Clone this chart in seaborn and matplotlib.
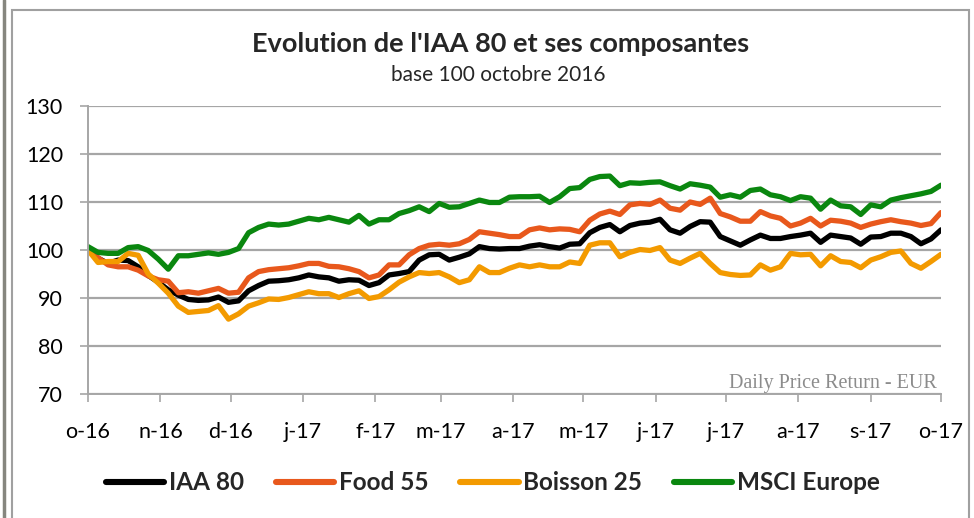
import matplotlib
matplotlib.use("Agg")
import matplotlib.pyplot as plt
import numpy as np
import pandas as pd
import seaborn as sns
from matplotlib.lines import Line2D
from matplotlib.patches import Rectangle

# ---------------- data ----------------
iaa80 = [100.0, 98.3, 97.2, 97.9, 97.8, 96.5, 94.7, 93.3, 91.7, 90.6, 89.7, 89.5, 89.6, 90.2, 89.1,
         89.4, 91.5, 92.6, 93.5, 93.6, 93.8, 94.2, 94.8, 94.4, 94.2, 93.5, 93.8, 93.7, 92.6, 93.2,
         94.8, 95.1, 95.5, 97.9, 99.0, 99.1, 97.9, 98.5, 99.2, 100.7, 100.3, 100.2, 100.3, 100.3,
         100.8, 101.1, 100.7, 100.4, 101.2, 101.3, 103.6, 104.7, 105.3, 103.8, 105.1, 105.6, 105.8, 106.4, 104.2,
         103.5, 104.9, 105.9, 105.8, 102.8, 101.9, 101.0, 102.1, 103.1, 102.4, 102.4, 102.8, 103.1, 103.5,
         101.6, 103.1, 102.8, 102.5, 101.2, 102.7, 102.8, 103.5, 103.5, 102.8, 101.3, 102.3, 104.2]
food55 = [100.0, 98.4, 96.9, 96.5, 96.5, 95.8, 94.6, 93.8, 93.5, 91.1, 91.3, 91.0, 91.5, 92.0, 91.0,
          91.2, 94.2, 95.5, 95.9, 96.1, 96.3, 96.7, 97.2, 97.2, 96.6, 96.5, 96.1, 95.5, 94.2, 94.8,
          96.9, 96.9, 99.0, 100.3, 101.0, 101.2, 101.0, 101.3, 102.2, 103.8, 103.5, 103.2, 102.8, 102.8,
          104.2, 104.6, 104.2, 104.4, 104.3, 103.8, 106.2, 107.5, 108.1, 107.4, 109.4, 109.7, 109.5, 110.4, 108.7,
          108.3, 110.0, 109.5, 110.8, 107.6, 106.9, 106.0, 106.0, 108.0, 107.1, 106.6, 105.0, 105.6, 106.6,
          105.0, 106.2, 106.0, 105.6, 104.7, 105.4, 105.9, 106.3, 105.9, 105.6, 105.1, 105.5, 107.8]
boisson25 = [100.0, 97.4, 97.6, 97.6, 99.3, 98.9, 95.0, 93.1, 91.0, 88.3, 87.0, 87.2, 87.4, 88.4, 85.6,
             86.7, 88.3, 89.0, 89.8, 89.7, 90.1, 90.7, 91.3, 90.9, 90.9, 90.1, 90.9, 91.5, 89.9, 90.3,
             91.7, 93.3, 94.4, 95.3, 95.1, 95.3, 94.4, 93.2, 93.8, 96.5, 95.3, 95.3, 96.2, 96.9,
             96.5, 96.9, 96.5, 96.5, 97.5, 97.2, 101.0, 101.5, 101.5, 98.6, 99.5, 100.1, 99.9, 100.5, 97.9,
             97.2, 98.3, 99.3, 97.2, 95.3, 94.9, 94.7, 94.8, 96.9, 95.8, 96.5, 99.3, 99.0, 99.1,
             96.7, 98.8, 97.6, 97.4, 96.3, 97.9, 98.6, 99.5, 99.8, 97.2, 96.2, 97.6, 99.1]
msci_europe = [100.7, 99.5, 99.3, 99.3, 100.5, 100.7, 99.9, 98.1, 96.0, 98.8, 98.8, 99.1, 99.4, 99.1, 99.5,
               100.3, 103.6, 104.7, 105.4, 105.2, 105.4, 106.0, 106.6, 106.3, 106.8, 106.3, 105.8, 107.2, 105.4, 106.3,
               106.3, 107.6, 108.2, 109.0, 108.0, 109.7, 108.9, 109.0, 109.7, 110.4, 109.9, 109.9, 111.0, 111.1,
               111.1, 111.2, 109.9, 111.1, 112.8, 113.0, 114.7, 115.3, 115.4, 113.4, 114.0, 113.9, 114.1, 114.2, 113.4,
               112.7, 113.8, 113.5, 113.1, 111.0, 111.5, 111.0, 112.4, 112.7, 111.5, 111.1, 110.3, 111.1, 110.8,
               108.5, 110.4, 109.2, 109.0, 107.4, 109.4, 109.0, 110.4, 110.9, 111.3, 111.7, 112.2, 113.5]

series_names = ["IAA 80", "Food 55", "Boisson 25", "MSCI Europe"]
series_colors = ["#000000", "#E8581C", "#F39A00", "#0A870F"]
month_labels = ["o-16", "n-16", "d-16", "j-17", "f-17", "m-17", "a-17",
                "m-17", "j-17", "j-17", "a-17", "s-17", "o-17"]
title = "Evolution de l'IAA 80 et ses composantes"
subtitle = "base 100 octobre 2016"
source_note = "Daily Price Return - EUR"

dates = pd.date_range("2016-10-01", "2017-10-01", periods=len(iaa80))
month_ticks = pd.date_range("2016-10-01", "2017-10-01", freq="MS")

frames = []
for name, vals in zip(series_names, [iaa80, food55, boisson25, msci_europe]):
    frames.append(pd.DataFrame({"date": dates, "value": vals, "serie": name}))
df = pd.concat(frames, ignore_index=True)

# ---------------- style ----------------
sns.set_style("white")
plt.rcParams["font.family"] = ["Lato", "DejaVu Sans"]

W, H = 974, 518
fig = plt.figure(figsize=(W / 100, H / 100), dpi=100)
ax = fig.add_axes([88 / W, 1 - 394 / H, (941 - 88) / W, (394 - 106) / H])

palette = dict(zip(series_names, series_colors))
sns.lineplot(data=df, x="date", y="value", hue="serie", hue_order=series_names,
             palette=palette, linewidth=3.8, ax=ax, legend=False)

ax.set_xlim(pd.Timestamp("2016-10-01"), pd.Timestamp("2017-10-01"))
ax.set_ylim(70, 130)
ax.set_yticks(np.arange(70, 131, 10))
ax.set_xticks(month_ticks)
ax.set_xticklabels(month_labels)
ax.set_xlabel("")
ax.set_ylabel("")

ax.yaxis.grid(True, color="#a6a6a6", linewidth=1.6)
ax.xaxis.grid(False)
ax.set_axisbelow(True)
for s in ["top", "right"]:
    ax.spines[s].set_visible(False)
for s in ["left", "bottom"]:
    ax.spines[s].set_color("#a6a6a6")
    ax.spines[s].set_linewidth(1.4)

ax.tick_params(axis="y", length=6, width=1.2, color="#a6a6a6", pad=12,
               labelsize=15.5, labelcolor="black", left=True)
ax.tick_params(axis="x", length=5.5, width=1.2, color="#a6a6a6", pad=15,
               labelsize=15.5, labelcolor="black", bottom=True)

ax.text(0.995, 0.022, source_note, transform=ax.transAxes, ha="right", va="baseline",
        fontsize=14.5, color="#8c8c8c", family=["Liberation Serif", "DejaVu Serif"])

fig.text(501 / W, 1 - 44 / H, title, ha="center", va="center", fontsize=19.5, fontweight="bold")
fig.text(498 / W, 1 - 75 / H, subtitle, ha="center", va="center", fontsize=15)

handles = [Line2D([0], [0], color=c, linewidth=4.4) for c in series_colors]
leg = fig.legend(handles, series_names, loc="center", bbox_to_anchor=(493 / W, 1 - 483 / H),
                 ncol=4, frameon=False, handlelength=2.4, handletextpad=0.2,
                 columnspacing=1.3, prop={"family": ["Lato", "DejaVu Sans"], "weight": "bold", "size": 17.5})

# chart frame
fig.add_artist(Rectangle((12 / W, -0.05), (969 - 12) / W, (1 - 10 / H) + 0.05,
                         transform=fig.transFigure, fill=False, edgecolor="#a0a0a0", linewidth=1.5))
fig.add_artist(Line2D([3.5 / W, 3.5 / W], [0, 1], transform=fig.transFigure,
                      color="#86867f", linewidth=2.5))

fig.savefig("out.png", dpi=100)
